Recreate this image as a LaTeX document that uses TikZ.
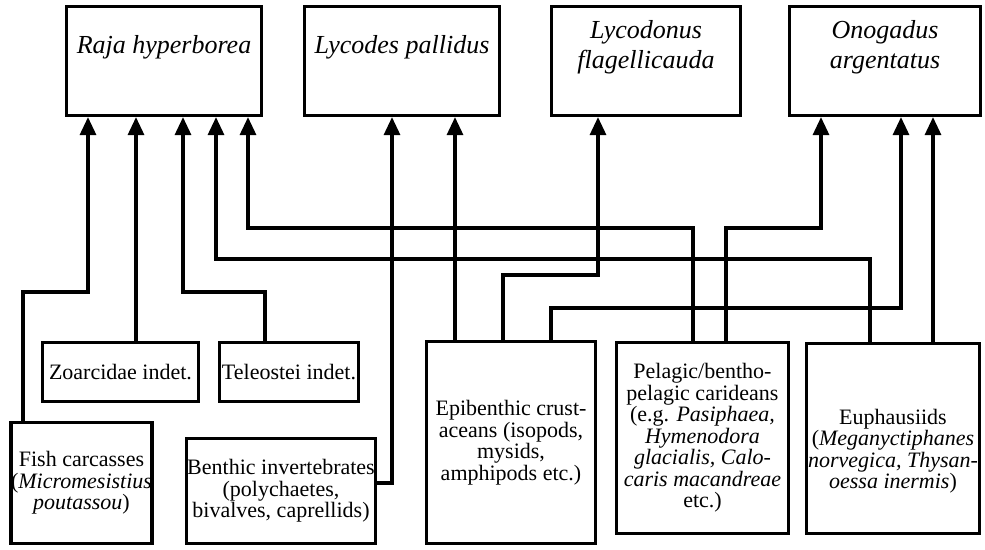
\documentclass[tikz,border=0pt]{standalone}
\usepackage{fontspec}
\setmainfont{Liberation Serif}
\usetikzlibrary{arrows.meta}

\begin{document}
\begin{tikzpicture}[x=1pt,y=-1pt,
        line width=3.2pt,
        >={Triangle[length=18pt,width=16pt]},
        box/.style={draw, inner sep=0pt, align=center},
        predator/.style={box, font=\fontsize{26}{30}\selectfont\itshape, text height=62pt, text depth=47pt},
        prey/.style={box, font=\fontsize{22}{21.5}\selectfont}]
            \useasboundingbox (0,0) rectangle (985,549);

            \node[predator, minimum width=195pt, text height=47pt, text depth=62pt] (raja) at (164,61) {Raja hyperborea};
            \node[predator, minimum width=195pt, text height=47pt, text depth=62pt] (lycodes) at (402,61) {Lycodes pallidus};
            \node[predator, minimum width=189pt] (lycodonus) at (646,61) {Lycodonus\\flagellicauda};
            \node[predator, minimum width=191pt] (onogadus) at (885,61) {Onogadus\\argentatus};

            \node[prey, minimum width=156pt, minimum height=59pt] (zoarcidae) at (120.5,372) {Zoarcidae indet.};
            \node[prey, minimum width=139pt, minimum height=59pt] (teleostei) at (289,372) {Teleostei indet.};
            \node[prey, minimum width=140pt, minimum height=121pt] (fish) at (81.5,483) {Fish carcasses\\(\textit{Micromesistius}\\\textit{poutassou})};
            \node[prey, minimum width=189pt, minimum height=105pt] (benthic) at (281,491) {Benthic invertebrates\\(polychaetes,\\bivalves, caprellids)};
            \node[prey, minimum width=169pt, minimum height=202pt] (epibenthic) at (511,442.5) {Epibenthic crust-\\aceans (isopods,\\mysids,\\amphipods etc.)};
            \node[prey, minimum width=172pt, minimum height=191pt] (pelagic) at (702.5,438) {Pelagic/bentho-\\pelagic carideans\\(e.g. \textit{Pasiphaea,}\\\textit{Hymenodora}\\\textit{glacialis, Calo-}\\\textit{caris macandreae}\\etc.)};
            \node[prey, minimum width=173pt, text height=145pt, text depth=45pt] (euphausiids) at (893,438.5) {Euphausiids\\(\textit{Meganyctiphanes}\\\textit{norvegica, Thysan-}\\\textit{oessa inermis})};

            \draw[->] (fish.north -| 23,0) |- (88,292) -- (raja.south -| 88,0);
            \draw[->] (zoarcidae.north -| 136,0) -- (raja.south -| 136,0);
            \draw[->] (teleostei.north -| 265,0) |- (183,292) -- (raja.south -| 183,0);
            \draw[->] (euphausiids.north -| 870,0) |- (216,259) -- (raja.south -| 216,0);
            \draw[->] (pelagic.north -| 693,0) |- (248,228) -- (raja.south -| 248,0);

            \draw[->] (benthic.east |- 0,483) -| (lycodes.south -| 392,0);
            \draw[->] (epibenthic.north -| 455,0) -- (lycodes.south -| 455,0);

            \draw[->] (epibenthic.north -| 503,0) |- (598,275) -- (lycodonus.south -| 598,0);

            \draw[->] (pelagic.north -| 726,0) |- (821,228) -- (onogadus.south -| 821,0);
            \draw[->] (epibenthic.north -| 551,0) |- (901,308) -- (onogadus.south -| 901,0);
            \draw[->] (euphausiids.north -| 933,0) -- (onogadus.south -| 933,0);
        \end{tikzpicture}
\end{document}
